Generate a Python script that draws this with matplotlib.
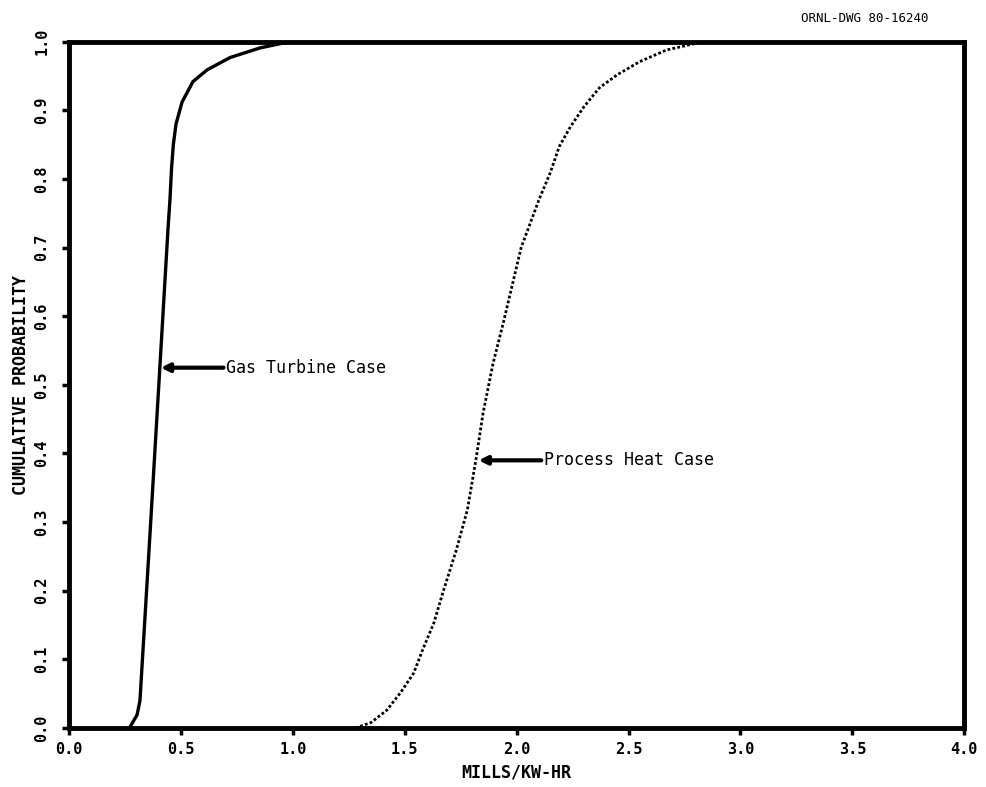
import matplotlib.pyplot as plt
import numpy as np

# cumulative probability curves, mills/kW-hr
gas_x = [0.27, 0.304, 0.317, 0.326, 0.362, 0.407, 0.442, 0.451, 0.458, 0.466,
         0.478, 0.505, 0.554, 0.617, 0.72, 0.854, 0.956, 1.0]
gas_y = [0.0, 0.019, 0.04, 0.089, 0.284, 0.532, 0.726, 0.77, 0.815, 0.850,
         0.880, 0.912, 0.942, 0.959, 0.977, 0.991, 0.998, 1.0]

heat_x = [1.28, 1.35, 1.42, 1.48, 1.54, 1.58, 1.63, 1.67, 1.73, 1.78, 1.82,
          1.85, 1.895, 1.94, 2.02, 2.10, 2.15, 2.19, 2.24, 2.30, 2.37, 2.45,
          2.55, 2.67, 2.82, 2.90]
heat_y = [0.0, 0.008, 0.026, 0.051, 0.080, 0.114, 0.153, 0.197, 0.259, 0.318,
          0.395, 0.459, 0.532, 0.59, 0.70, 0.77, 0.809, 0.847, 0.876, 0.905,
          0.933, 0.952, 0.971, 0.988, 0.999, 1.0]

x_ticks = [0.0, 0.5, 1.0, 1.5, 2.0, 2.5, 3.0, 3.5, 4.0]
y_ticks = [0.0, 0.1, 0.2, 0.3, 0.4, 0.5, 0.6, 0.7, 0.8, 0.9, 1.0]

plt.rcParams['font.family'] = ['DejaVu Sans Mono', 'DejaVu Sans']

fig = plt.figure(figsize=(9.86, 7.87), dpi=100)
ax = fig.add_axes([0.070, 0.075, 0.908, 0.872])

ax.plot(gas_x, gas_y, color='black', linewidth=2.4, solid_capstyle='round')
ax.plot(heat_x, heat_y, color='black', linewidth=2.0, linestyle=(0, (1, 0.8)))

ax.set_xlim(0, 4.0)
ax.set_ylim(0, 1.0)
ax.set_xticks(x_ticks)
ax.set_yticks(y_ticks)
ax.set_xticklabels([f"{v:.1f}" for v in x_ticks], fontsize=11, fontweight='bold')
ax.set_yticklabels([f"{v:.1f}" for v in y_ticks], fontsize=11, fontweight='bold',
                   rotation=90, va='center')
ax.tick_params(axis='x', direction='out', length=5, width=2.5, pad=5)
ax.tick_params(axis='y', direction='out', length=5, width=2.5, pad=9)

for sp in ax.spines.values():
    sp.set_linewidth(3.5)

ax.set_xlabel("MILLS/KW-HR", fontsize=12, fontweight='bold', labelpad=5)
ax.set_ylabel("CUMULATIVE PROBABILITY", fontsize=12, fontweight='bold', labelpad=3)

# callouts
ax.annotate("", xy=(0.41, 0.525), xytext=(0.69, 0.525),
            arrowprops=dict(arrowstyle='-|>', color='black', lw=3,
                            mutation_scale=12, shrinkA=0, shrinkB=0))
ax.text(0.70, 0.525, "Gas Turbine Case", fontsize=12, va='center', ha='left')

ax.annotate("", xy=(1.83, 0.39), xytext=(2.11, 0.39),
            arrowprops=dict(arrowstyle='-|>', color='black', lw=3,
                            mutation_scale=12, shrinkA=0, shrinkB=0))
ax.text(2.12, 0.39, "Process Heat Case", fontsize=12, va='center', ha='left')

fig.text(0.812, 0.977, "ORNL-DWG 80-16240", fontsize=9, va='center', ha='left')

plt.savefig("out.png", dpi=100)
